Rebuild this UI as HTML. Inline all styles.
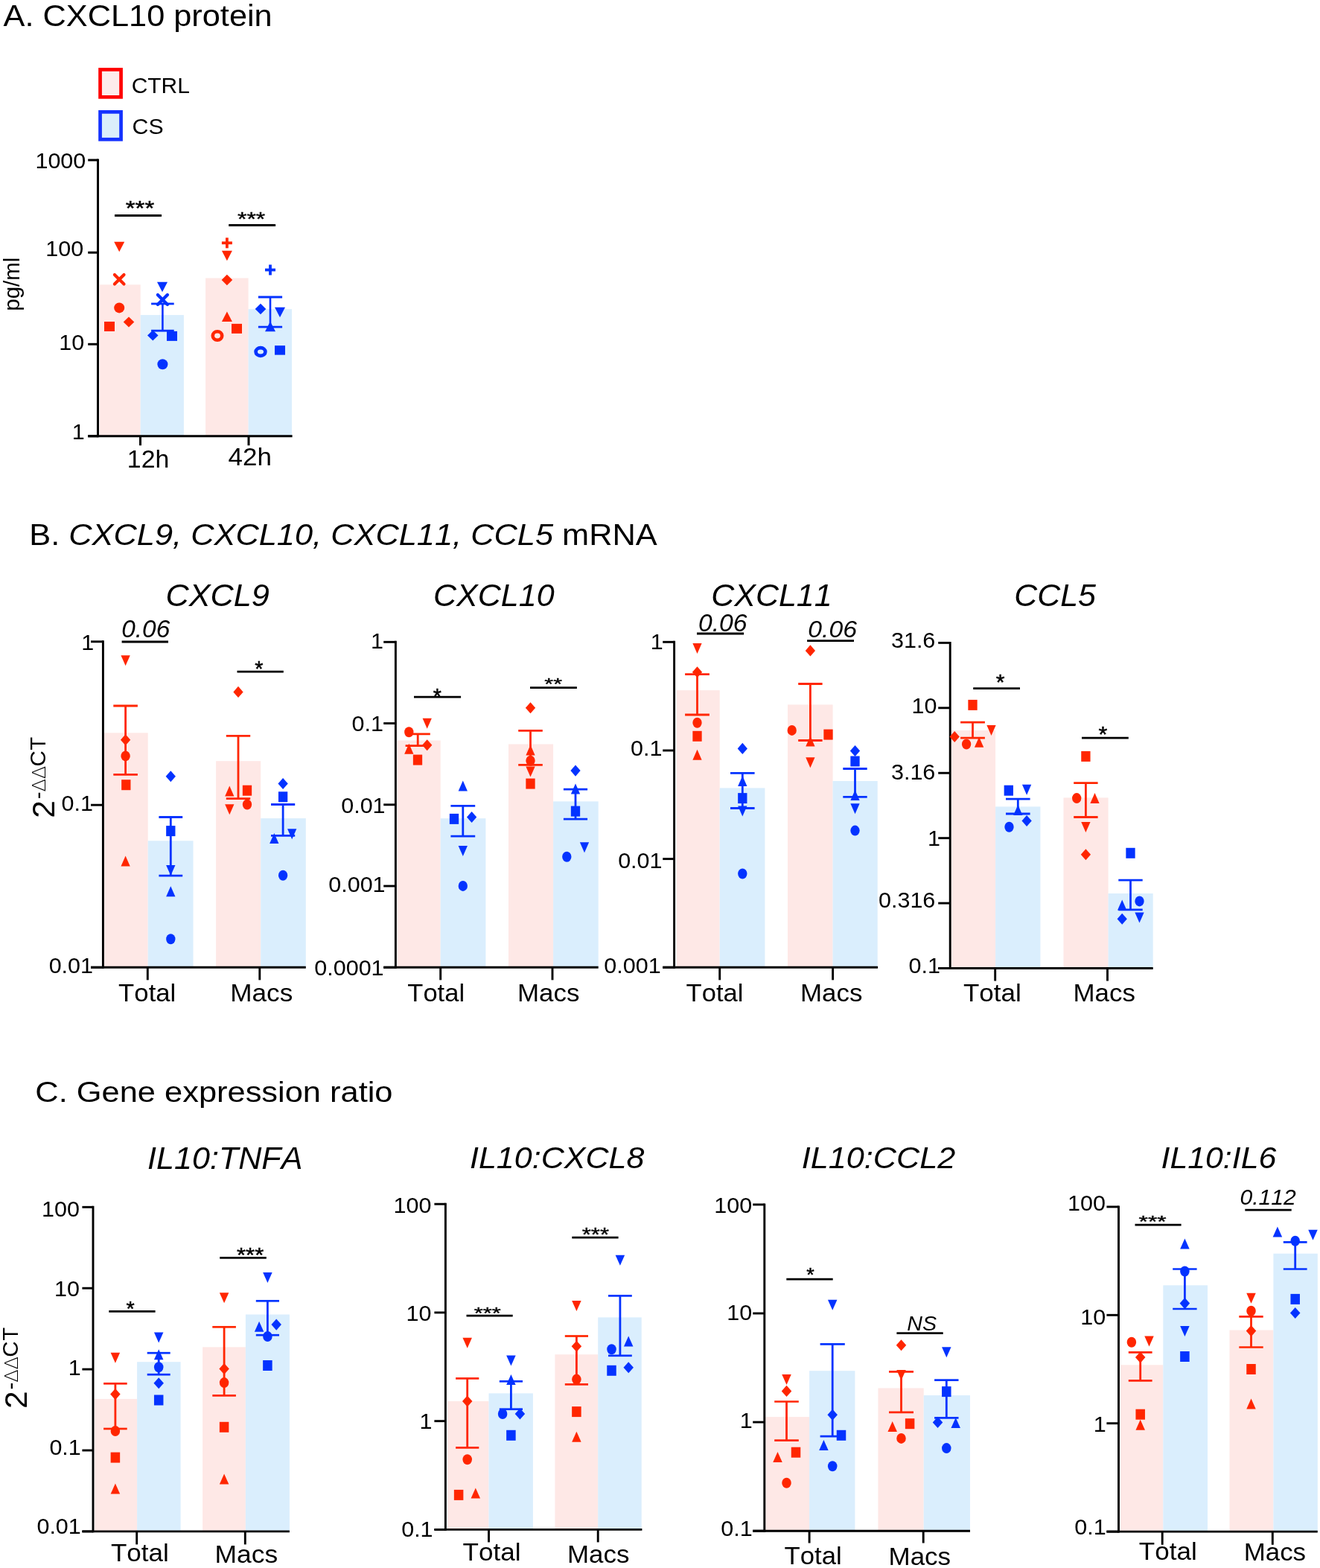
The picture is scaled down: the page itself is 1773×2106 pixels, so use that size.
<!DOCTYPE html><html><head><meta charset="utf-8"><style>html,body{margin:0;padding:0;background:#fff;}svg{display:block;}text{font-family:"Liberation Sans",Arial,sans-serif;font-kerning:none;fill:#000;}</style></head><body>
<svg width="1773" height="2106" viewBox="0 0 1773 2106">
<rect width="1773" height="2106" fill="#fff"/>
<text transform="translate(4.62,34.5) scale(1,0.9493)" style="font-size:43.32px" xml:space="preserve">A. CXCL10 protein</text>
<rect x="134.55" y="93.45" width="28" height="36.9" fill="#FDEBEB" stroke="#FF0000" stroke-width="4.7"/>
<rect x="134.55" y="150.35" width="28" height="36.9" fill="#DAEEFB" stroke="#1432FF" stroke-width="4.7"/>
<text transform="translate(176.68,124.9) scale(1,0.9898)" style="font-size:29.95px" xml:space="preserve">CTRL</text>
<text transform="translate(177.56,179.9) scale(1,0.9847)" style="font-size:30.25px" xml:space="preserve">CS</text>
<text transform="translate(26,381.7) rotate(-90)" text-anchor="middle" style="font-size:29.5px">pg/ml</text>
<rect x="133.8" y="382.3" width="54.9" height="203.5" fill="#FEE8E6"/>
<rect x="188.7" y="423.1" width="58.2" height="162.7" fill="#DAEEFD"/>
<rect x="276.1" y="373.5" width="57.5" height="212.3" fill="#FEE8E6"/>
<rect x="333.6" y="415.2" width="58.4" height="170.6" fill="#DAEEFD"/>
<line x1="131.5" y1="213.5" x2="131.5" y2="587.3" stroke="#000" stroke-width="3" stroke-linecap="butt"/>
<line x1="118.2" y1="585.8" x2="392.6" y2="585.8" stroke="#000" stroke-width="3" stroke-linecap="butt"/>
<line x1="118.2" y1="215" x2="131.5" y2="215" stroke="#000" stroke-width="3" stroke-linecap="butt"/>
<line x1="118.2" y1="339.2" x2="131.5" y2="339.2" stroke="#000" stroke-width="3" stroke-linecap="butt"/>
<line x1="118.2" y1="462.3" x2="131.5" y2="462.3" stroke="#000" stroke-width="3" stroke-linecap="butt"/>
<line x1="118.2" y1="585.8" x2="131.5" y2="585.8" stroke="#000" stroke-width="3" stroke-linecap="butt"/>
<line x1="188.5" y1="585.8" x2="188.5" y2="598.3" stroke="#000" stroke-width="3" stroke-linecap="butt"/>
<line x1="334" y1="585.8" x2="334" y2="598.3" stroke="#000" stroke-width="3" stroke-linecap="butt"/>
<text transform="translate(47.44,226) scale(1,0.960)" style="font-size:30.5px">1000</text>
<text transform="translate(61.3,344) scale(1,0.960)" style="font-size:30.5px">100</text>
<text transform="translate(79.27,469.7) scale(1,0.960)" style="font-size:30.5px">10</text>
<text transform="translate(96.64,590.4) scale(1,0.960)" style="font-size:30.5px">1</text>
<text transform="translate(170.82,628) scale(1,0.9826)" style="font-size:33.85px" xml:space="preserve">12h</text>
<text transform="translate(306.5,625.2) scale(1,0.9506)" style="font-size:34.99px" xml:space="preserve">42h</text>
<polygon points="153.2,324.75 167.2,324.75 160.2,338.25" fill="#FF2600"/>
<path d="M153.9 369L166.5 381.6M166.5 369L153.9 381.6" stroke="#FF2600" stroke-width="4.2" stroke-linecap="round" fill="none"/>
<ellipse cx="160.2" cy="413.4" rx="7" ry="7" fill="#FF2600"/>
<polygon points="165.71,432.4 173,425.38 180.29,432.4 173,439.42" fill="#FF2600"/>
<rect x="140" y="432" width="14" height="13" fill="#FF2600"/>
<line x1="218.4" y1="408" x2="218.4" y2="444.2" stroke="#0433FF" stroke-width="2.6" stroke-linecap="butt"/>
<line x1="203.1" y1="408" x2="233.7" y2="408" stroke="#0433FF" stroke-width="2.8" stroke-linecap="butt"/>
<line x1="203.1" y1="444.2" x2="233.7" y2="444.2" stroke="#0433FF" stroke-width="2.8" stroke-linecap="butt"/>
<polygon points="211,378.75 225,378.75 218,392.25" fill="#0433FF"/>
<path d="M211.89 395.99L224.91 409.01M224.91 395.99L211.89 409.01" stroke="#0433FF" stroke-width="4.34" stroke-linecap="round" fill="none"/>
<polygon points="198.01,450.6 205.3,443.58 212.59,450.6 205.3,457.62" fill="#0433FF"/>
<rect x="224" y="444.9" width="14" height="13" fill="#0433FF"/>
<ellipse cx="218.4" cy="489.3" rx="7" ry="7" fill="#0433FF"/>
<rect x="297.9" y="324.41" width="14" height="3.78" fill="#FF2600"/>
<rect x="303.01" y="319.3" width="3.78" height="14" fill="#FF2600"/>
<polygon points="297.9,336.65 311.9,336.65 304.9,350.15" fill="#FF2600"/>
<polygon points="297.61,376 304.9,368.71 312.19,376 304.9,383.29" fill="#FF2600"/>
<polygon points="297.9,432.05 311.9,432.05 304.9,418.55" fill="#FF2600"/>
<ellipse cx="292" cy="451" rx="6.21" ry="5.71" fill="none" stroke="#FF2600" stroke-width="4.59"/>
<rect x="311" y="434.9" width="14" height="13" fill="#FF2600"/>
<line x1="363" y1="399" x2="363" y2="439.1" stroke="#0433FF" stroke-width="2.6" stroke-linecap="butt"/>
<line x1="346.9" y1="399" x2="379.1" y2="399" stroke="#0433FF" stroke-width="2.8" stroke-linecap="butt"/>
<line x1="346.9" y1="439.1" x2="379.1" y2="439.1" stroke="#0433FF" stroke-width="2.8" stroke-linecap="butt"/>
<rect x="356" y="360.61" width="14" height="3.78" fill="#0433FF"/>
<rect x="361.11" y="355.5" width="3.78" height="14" fill="#0433FF"/>
<polygon points="342.71,415 350,407.71 357.29,415 350,422.29" fill="#0433FF"/>
<polygon points="369,412.75 383,412.75 376,426.25" fill="#0433FF"/>
<polygon points="356,445.25 370,445.25 363,431.75" fill="#0433FF"/>
<ellipse cx="350" cy="472.5" rx="6.39" ry="5.39" fill="none" stroke="#0433FF" stroke-width="4.73"/>
<rect x="369" y="464.15" width="14" height="12.5" fill="#0433FF"/>
<line x1="154" y1="289.5" x2="217" y2="289.5" stroke="#000" stroke-width="3" stroke-linecap="butt"/>
<text transform="translate(168.77,288.81) scale(1,0.8390)" style="font-size:32.93px;stroke:#000;stroke-width:0.5px">***</text>
<line x1="307.2" y1="302.5" x2="370.1" y2="302.5" stroke="#000" stroke-width="3" stroke-linecap="butt"/>
<text transform="translate(318.99,303.42) scale(1,0.8311)" style="font-size:31.87px;stroke:#000;stroke-width:0.5px">***</text>
<text transform="translate(39.24,732.1) scale(1,0.9508)" style="font-size:43.38px" xml:space="preserve"><tspan>B. </tspan><tspan style="font-style:italic">CXCL9, CXCL10, CXCL11, CCL5</tspan><tspan> mRNA</tspan></text>
<text transform="translate(72.9,0) rotate(-90)" x="-1098.84" y="0" style="font-size:42.5px">2</text>
<text transform="translate(61,0) rotate(-90)" x="-1073.31" y="0" style="font-size:29.5px">-</text>
<text transform="translate(61,0) rotate(-90)" x="-1063.48" y="0" style="font-size:25.6px;font-family:'DejaVu Sans';font-weight:200">Δ</text>
<text transform="translate(61,0) rotate(-90)" x="-1046.28" y="0" style="font-size:25.6px;font-family:'DejaVu Sans';font-weight:200">Δ</text>
<text transform="translate(61,0) rotate(-90)" x="-1029.6" y="0" style="font-size:29.5px">C</text>
<text transform="translate(61,0) rotate(-90)" x="-1007.66" y="0" style="font-size:29.5px">T</text>
<text transform="translate(222.41,814.2) scale(1,0.9772)" style="font-size:43.23px;font-style:italic" xml:space="preserve">CXCL9</text>
<text transform="translate(582.03,814.2) scale(1,0.9819)" style="font-size:43.03px;font-style:italic" xml:space="preserve">CXCL10</text>
<text transform="translate(955.23,814.2) scale(1,0.9833)" style="font-size:42.97px;font-style:italic" xml:space="preserve">CXCL11</text>
<text transform="translate(1362.23,814.2) scale(1,0.9850)" style="font-size:42.89px;font-style:italic" xml:space="preserve">CCL5</text>
<rect x="139.8" y="984.3" width="58.9" height="315" fill="#FEE8E6"/>
<rect x="198.7" y="1129.3" width="60.8" height="170" fill="#DAEEFD"/>
<rect x="290.1" y="1022.2" width="60.1" height="277.1" fill="#FEE8E6"/>
<rect x="350.2" y="1099.1" width="60.6" height="200.2" fill="#DAEEFD"/>
<line x1="138.4" y1="860.35" x2="138.4" y2="1300.75" stroke="#000" stroke-width="2.9" stroke-linecap="butt"/>
<line x1="122" y1="1299.3" x2="410.8" y2="1299.3" stroke="#000" stroke-width="2.9" stroke-linecap="butt"/>
<line x1="122" y1="861.8" x2="138.4" y2="861.8" stroke="#000" stroke-width="2.9" stroke-linecap="butt"/>
<line x1="122" y1="1081.2" x2="138.4" y2="1081.2" stroke="#000" stroke-width="2.9" stroke-linecap="butt"/>
<line x1="122" y1="1299.3" x2="138.4" y2="1299.3" stroke="#000" stroke-width="2.9" stroke-linecap="butt"/>
<line x1="198.3" y1="1299.3" x2="198.3" y2="1316.3" stroke="#000" stroke-width="2.9" stroke-linecap="butt"/>
<line x1="348.8" y1="1299.3" x2="348.8" y2="1316.3" stroke="#000" stroke-width="2.9" stroke-linecap="butt"/>
<text transform="translate(109.14,873.2) scale(1,0.960)" style="font-size:30.5px">1</text>
<text transform="translate(82.5,1088.8) scale(1,0.960)" style="font-size:30.5px">0.1</text>
<text transform="translate(65.64,1307.3) scale(1,0.960)" style="font-size:30.5px">0.01</text>
<text transform="translate(159.12,1344.9) scale(1,0.9458)" style="font-size:34.73px" xml:space="preserve">Total</text>
<text transform="translate(309.21,1344.7) scale(1,0.9331)" style="font-size:35.18px" xml:space="preserve">Macs</text>
<line x1="168.6" y1="948" x2="168.6" y2="1040.3" stroke="#FF2600" stroke-width="2.8" stroke-linecap="butt"/>
<line x1="152.3" y1="948" x2="184.9" y2="948" stroke="#FF2600" stroke-width="2.8" stroke-linecap="butt"/>
<line x1="152.3" y1="1040.3" x2="184.9" y2="1040.3" stroke="#FF2600" stroke-width="2.8" stroke-linecap="butt"/>
<polygon points="162.45,880.3 174.75,880.3 168.6,894.3" fill="#FF2600"/>
<polygon points="161.96,993.8 168.6,986.24 175.24,993.8 168.6,1001.36" fill="#FF2600"/>
<ellipse cx="168.6" cy="1015.4" rx="6.15" ry="7" fill="#FF2600"/>
<rect x="163.15" y="1047.2" width="12.3" height="14" fill="#FF2600"/>
<polygon points="162.45,1163.5 174.75,1163.5 168.6,1149.5" fill="#FF2600"/>
<line x1="229.3" y1="1097.5" x2="229.3" y2="1176.2" stroke="#0433FF" stroke-width="2.8" stroke-linecap="butt"/>
<line x1="213.4" y1="1097.5" x2="245.2" y2="1097.5" stroke="#0433FF" stroke-width="2.8" stroke-linecap="butt"/>
<line x1="213.4" y1="1176.2" x2="245.2" y2="1176.2" stroke="#0433FF" stroke-width="2.8" stroke-linecap="butt"/>
<polygon points="222.66,1042.7 229.3,1035.14 235.94,1042.7 229.3,1050.26" fill="#0433FF"/>
<rect x="223.15" y="1109.1" width="12.3" height="14" fill="#0433FF"/>
<polygon points="223.15,1162 235.45,1162 229.3,1176" fill="#0433FF"/>
<polygon points="223.15,1204.3 235.45,1204.3 229.3,1190.3" fill="#0433FF"/>
<ellipse cx="229.3" cy="1261.2" rx="6.15" ry="7" fill="#0433FF"/>
<line x1="320" y1="988.4" x2="320" y2="1072.6" stroke="#FF2600" stroke-width="2.8" stroke-linecap="butt"/>
<line x1="303.8" y1="988.4" x2="336.2" y2="988.4" stroke="#FF2600" stroke-width="2.8" stroke-linecap="butt"/>
<line x1="303.8" y1="1072.6" x2="336.2" y2="1072.6" stroke="#FF2600" stroke-width="2.8" stroke-linecap="butt"/>
<polygon points="313.36,929.4 320,921.84 326.64,929.4 320,936.96" fill="#FF2600"/>
<polygon points="302.15,1069.4 314.45,1069.4 308.3,1055.4" fill="#FF2600"/>
<rect x="325.85" y="1054.7" width="12.3" height="14" fill="#FF2600"/>
<polygon points="302.15,1080.3 314.45,1080.3 308.3,1094.3" fill="#FF2600"/>
<ellipse cx="332" cy="1080.5" rx="6.15" ry="7" fill="#FF2600"/>
<line x1="380.1" y1="1080.5" x2="380.1" y2="1122.4" stroke="#0433FF" stroke-width="2.8" stroke-linecap="butt"/>
<line x1="364" y1="1080.5" x2="396.2" y2="1080.5" stroke="#0433FF" stroke-width="2.8" stroke-linecap="butt"/>
<line x1="364" y1="1122.4" x2="396.2" y2="1122.4" stroke="#0433FF" stroke-width="2.8" stroke-linecap="butt"/>
<polygon points="373.46,1052.5 380.1,1044.94 386.74,1052.5 380.1,1060.06" fill="#0433FF"/>
<rect x="373.95" y="1063.3" width="12.3" height="14" fill="#0433FF"/>
<polygon points="362.15,1132.9 374.45,1132.9 368.3,1118.9" fill="#0433FF"/>
<polygon points="386.05,1113.2 398.35,1113.2 392.2,1127.2" fill="#0433FF"/>
<ellipse cx="380.1" cy="1175.7" rx="6.15" ry="7" fill="#0433FF"/>
<line x1="163.6" y1="862" x2="226" y2="862" stroke="#000" stroke-width="2.8" stroke-linecap="butt"/>
<text transform="translate(163.25,856.2) scale(1,0.9742)" style="font-size:33.37px;font-style:italic" xml:space="preserve">0.06</text>
<line x1="318.5" y1="902.2" x2="380.8" y2="902.2" stroke="#000" stroke-width="2.8" stroke-linecap="butt"/>
<text transform="translate(342.24,907.98) scale(1,1.0181)" style="font-size:28.82px;stroke:#000;stroke-width:0.5px">*</text>
<rect x="533.4" y="994.5" width="58.3" height="304.8" fill="#FEE8E6"/>
<rect x="591.7" y="1099.2" width="60.7" height="200.1" fill="#DAEEFD"/>
<rect x="683" y="999.5" width="60.1" height="299.8" fill="#FEE8E6"/>
<rect x="743.1" y="1076.4" width="60.6" height="222.9" fill="#DAEEFD"/>
<line x1="531.4" y1="860.85" x2="531.4" y2="1300.75" stroke="#000" stroke-width="2.9" stroke-linecap="butt"/>
<line x1="515.2" y1="1299.3" x2="803.7" y2="1299.3" stroke="#000" stroke-width="2.9" stroke-linecap="butt"/>
<line x1="515.2" y1="862.3" x2="531.4" y2="862.3" stroke="#000" stroke-width="2.9" stroke-linecap="butt"/>
<line x1="515.2" y1="971.55" x2="531.4" y2="971.55" stroke="#000" stroke-width="2.9" stroke-linecap="butt"/>
<line x1="515.2" y1="1080.8" x2="531.4" y2="1080.8" stroke="#000" stroke-width="2.9" stroke-linecap="butt"/>
<line x1="515.2" y1="1190.05" x2="531.4" y2="1190.05" stroke="#000" stroke-width="2.9" stroke-linecap="butt"/>
<line x1="515.2" y1="1299.3" x2="531.4" y2="1299.3" stroke="#000" stroke-width="2.9" stroke-linecap="butt"/>
<line x1="591.7" y1="1299.3" x2="591.7" y2="1316.3" stroke="#000" stroke-width="2.9" stroke-linecap="butt"/>
<line x1="742" y1="1299.3" x2="742" y2="1316.3" stroke="#000" stroke-width="2.9" stroke-linecap="butt"/>
<text transform="translate(497.94,870.8) scale(1,0.960)" style="font-size:30.5px">1</text>
<text transform="translate(472.5,981.8) scale(1,0.960)" style="font-size:30.5px">0.1</text>
<text transform="translate(458.24,1091.8) scale(1,0.960)" style="font-size:30.5px">0.01</text>
<text transform="translate(441.27,1198.4) scale(1,0.960)" style="font-size:30.5px">0.001</text>
<text transform="translate(422.31,1309.5) scale(1,0.960)" style="font-size:30.5px">0.0001</text>
<text transform="translate(547.32,1344.7) scale(1,0.9509)" style="font-size:34.54px" xml:space="preserve">Total</text>
<text transform="translate(694.94,1344.7) scale(1,0.9401)" style="font-size:34.92px" xml:space="preserve">Macs</text>
<line x1="561.2" y1="985.9" x2="561.2" y2="1001.7" stroke="#FF2600" stroke-width="2.8" stroke-linecap="butt"/>
<line x1="544.6" y1="985.9" x2="577.8" y2="985.9" stroke="#FF2600" stroke-width="2.8" stroke-linecap="butt"/>
<line x1="544.6" y1="1001.7" x2="577.8" y2="1001.7" stroke="#FF2600" stroke-width="2.8" stroke-linecap="butt"/>
<ellipse cx="549.3" cy="983.2" rx="6.15" ry="7" fill="#FF2600"/>
<polygon points="567.55,964.8 579.85,964.8 573.7,978.8" fill="#FF2600"/>
<polygon points="543.15,1012.8 555.45,1012.8 549.3,998.8" fill="#FF2600"/>
<polygon points="567.06,1000.8 573.7,993.24 580.34,1000.8 573.7,1008.36" fill="#FF2600"/>
<rect x="554.85" y="1013.6" width="12.3" height="14" fill="#FF2600"/>
<line x1="621.8" y1="1082.3" x2="621.8" y2="1123.1" stroke="#0433FF" stroke-width="2.8" stroke-linecap="butt"/>
<line x1="605.4" y1="1082.3" x2="638.2" y2="1082.3" stroke="#0433FF" stroke-width="2.8" stroke-linecap="butt"/>
<line x1="605.4" y1="1123.1" x2="638.2" y2="1123.1" stroke="#0433FF" stroke-width="2.8" stroke-linecap="butt"/>
<polygon points="615.65,1062.6 627.95,1062.6 621.8,1048.6" fill="#0433FF"/>
<rect x="603.85" y="1092.9" width="12.3" height="14" fill="#0433FF"/>
<polygon points="626.96,1097.5 633.6,1089.94 640.24,1097.5 633.6,1105.06" fill="#0433FF"/>
<polygon points="615.65,1135.9 627.95,1135.9 621.8,1149.9" fill="#0433FF"/>
<ellipse cx="621.8" cy="1189.9" rx="6.15" ry="7" fill="#0433FF"/>
<line x1="712.5" y1="981.3" x2="712.5" y2="1027.4" stroke="#FF2600" stroke-width="2.8" stroke-linecap="butt"/>
<line x1="696.2" y1="981.3" x2="728.8" y2="981.3" stroke="#FF2600" stroke-width="2.8" stroke-linecap="butt"/>
<line x1="696.2" y1="1027.4" x2="728.8" y2="1027.4" stroke="#FF2600" stroke-width="2.8" stroke-linecap="butt"/>
<polygon points="705.86,950.7 712.5,943.14 719.14,950.7 712.5,958.26" fill="#FF2600"/>
<polygon points="706.35,1014.6 718.65,1014.6 712.5,1000.6" fill="#FF2600"/>
<ellipse cx="712.5" cy="1021.7" rx="6.15" ry="7" fill="#FF2600"/>
<polygon points="706.35,1029.4 718.65,1029.4 712.5,1043.4" fill="#FF2600"/>
<rect x="706.35" y="1045.6" width="12.3" height="14" fill="#FF2600"/>
<line x1="773" y1="1060.1" x2="773" y2="1100.2" stroke="#0433FF" stroke-width="2.8" stroke-linecap="butt"/>
<line x1="756.9" y1="1060.1" x2="789.1" y2="1060.1" stroke="#0433FF" stroke-width="2.8" stroke-linecap="butt"/>
<line x1="756.9" y1="1100.2" x2="789.1" y2="1100.2" stroke="#0433FF" stroke-width="2.8" stroke-linecap="butt"/>
<polygon points="766.36,1035.1 773,1027.54 779.64,1035.1 773,1042.66" fill="#0433FF"/>
<polygon points="766.85,1066.4 779.15,1066.4 773,1052.4" fill="#0433FF"/>
<rect x="766.85" y="1082.6" width="12.3" height="14" fill="#0433FF"/>
<polygon points="778.85,1131.3 791.15,1131.3 785,1145.3" fill="#0433FF"/>
<ellipse cx="761.3" cy="1150.8" rx="6.15" ry="7" fill="#0433FF"/>
<line x1="556" y1="936.2" x2="619.1" y2="936.2" stroke="#000" stroke-width="2.8" stroke-linecap="butt"/>
<text transform="translate(581.64,944.79) scale(1,1.0181)" style="font-size:28.54px;stroke:#000;stroke-width:0.5px">*</text>
<line x1="712" y1="923.7" x2="774.9" y2="923.7" stroke="#000" stroke-width="2.8" stroke-linecap="butt"/>
<text transform="translate(731.31,926.18) scale(1,0.7495)" style="font-size:30.41px;stroke:#000;stroke-width:0.5px">**</text>
<rect x="908.4" y="927.1" width="58.3" height="372.2" fill="#FEE8E6"/>
<rect x="966.7" y="1058.4" width="60.7" height="240.9" fill="#DAEEFD"/>
<rect x="1058" y="946.4" width="60.6" height="352.9" fill="#FEE8E6"/>
<rect x="1118.6" y="1049" width="60.1" height="250.3" fill="#DAEEFD"/>
<line x1="905.6" y1="860.85" x2="905.6" y2="1300.75" stroke="#000" stroke-width="2.9" stroke-linecap="butt"/>
<line x1="890.2" y1="1299.3" x2="1179.1" y2="1299.3" stroke="#000" stroke-width="2.9" stroke-linecap="butt"/>
<line x1="890.2" y1="862.3" x2="905.6" y2="862.3" stroke="#000" stroke-width="2.9" stroke-linecap="butt"/>
<line x1="890.2" y1="1007.97" x2="905.6" y2="1007.97" stroke="#000" stroke-width="2.9" stroke-linecap="butt"/>
<line x1="890.2" y1="1153.63" x2="905.6" y2="1153.63" stroke="#000" stroke-width="2.9" stroke-linecap="butt"/>
<line x1="890.2" y1="1299.3" x2="905.6" y2="1299.3" stroke="#000" stroke-width="2.9" stroke-linecap="butt"/>
<line x1="966.7" y1="1299.3" x2="966.7" y2="1316.3" stroke="#000" stroke-width="2.9" stroke-linecap="butt"/>
<line x1="1118.6" y1="1299.3" x2="1118.6" y2="1316.3" stroke="#000" stroke-width="2.9" stroke-linecap="butt"/>
<text transform="translate(873.64,872.1) scale(1,0.960)" style="font-size:30.5px">1</text>
<text transform="translate(847.1,1015.2) scale(1,0.960)" style="font-size:30.5px">0.1</text>
<text transform="translate(830.14,1166) scale(1,0.960)" style="font-size:30.5px">0.01</text>
<text transform="translate(811.37,1307.1) scale(1,0.960)" style="font-size:30.5px">0.001</text>
<text transform="translate(921.62,1344.7) scale(1,0.9509)" style="font-size:34.54px" xml:space="preserve">Total</text>
<text transform="translate(1074.94,1344.7) scale(1,0.9401)" style="font-size:34.92px" xml:space="preserve">Macs</text>
<line x1="936.5" y1="905.6" x2="936.5" y2="960" stroke="#FF2600" stroke-width="2.8" stroke-linecap="butt"/>
<line x1="920.1" y1="905.6" x2="952.9" y2="905.6" stroke="#FF2600" stroke-width="2.8" stroke-linecap="butt"/>
<line x1="920.1" y1="960" x2="952.9" y2="960" stroke="#FF2600" stroke-width="2.8" stroke-linecap="butt"/>
<polygon points="930.35,863.9 942.65,863.9 936.5,877.9" fill="#FF2600"/>
<polygon points="929.86,902.7 936.5,895.14 943.14,902.7 936.5,910.26" fill="#FF2600"/>
<ellipse cx="936.5" cy="970.7" rx="6.15" ry="7" fill="#FF2600"/>
<rect x="930.35" y="981.8" width="12.3" height="14" fill="#FF2600"/>
<polygon points="930.35,1020.7 942.65,1020.7 936.5,1006.7" fill="#FF2600"/>
<line x1="997.3" y1="1038.4" x2="997.3" y2="1085.5" stroke="#0433FF" stroke-width="2.8" stroke-linecap="butt"/>
<line x1="981" y1="1038.4" x2="1013.6" y2="1038.4" stroke="#0433FF" stroke-width="2.8" stroke-linecap="butt"/>
<line x1="981" y1="1085.5" x2="1013.6" y2="1085.5" stroke="#0433FF" stroke-width="2.8" stroke-linecap="butt"/>
<polygon points="990.66,1005.4 997.3,997.84 1003.94,1005.4 997.3,1012.96" fill="#0433FF"/>
<polygon points="991.15,1056 1003.45,1056 997.3,1042" fill="#0433FF"/>
<rect x="991.15" y="1065.1" width="12.3" height="14" fill="#0433FF"/>
<polygon points="991.15,1082.6 1003.45,1082.6 997.3,1096.6" fill="#0433FF"/>
<ellipse cx="997.3" cy="1173.5" rx="6.15" ry="7" fill="#0433FF"/>
<line x1="1088.4" y1="918.5" x2="1088.4" y2="994.5" stroke="#FF2600" stroke-width="2.8" stroke-linecap="butt"/>
<line x1="1072.2" y1="918.5" x2="1104.6" y2="918.5" stroke="#FF2600" stroke-width="2.8" stroke-linecap="butt"/>
<line x1="1072.2" y1="994.5" x2="1104.6" y2="994.5" stroke="#FF2600" stroke-width="2.8" stroke-linecap="butt"/>
<polygon points="1081.76,873.9 1088.4,866.34 1095.04,873.9 1088.4,881.46" fill="#FF2600"/>
<ellipse cx="1063.7" cy="980.9" rx="6.15" ry="7" fill="#FF2600"/>
<rect x="1106.35" y="979.6" width="12.3" height="14" fill="#FF2600"/>
<polygon points="1082.25,1002.6 1094.55,1002.6 1088.4,988.6" fill="#FF2600"/>
<polygon points="1082.25,1017.3 1094.55,1017.3 1088.4,1031.3" fill="#FF2600"/>
<line x1="1148.5" y1="1032.5" x2="1148.5" y2="1070.3" stroke="#0433FF" stroke-width="2.8" stroke-linecap="butt"/>
<line x1="1132.3" y1="1032.5" x2="1164.7" y2="1032.5" stroke="#0433FF" stroke-width="2.8" stroke-linecap="butt"/>
<line x1="1132.3" y1="1070.3" x2="1164.7" y2="1070.3" stroke="#0433FF" stroke-width="2.8" stroke-linecap="butt"/>
<polygon points="1141.86,1008.5 1148.5,1000.94 1155.14,1008.5 1148.5,1016.06" fill="#0433FF"/>
<rect x="1142.35" y="1015.5" width="12.3" height="14" fill="#0433FF"/>
<polygon points="1142.35,1075 1154.65,1075 1148.5,1061" fill="#0433FF"/>
<polygon points="1142.35,1079.2 1154.65,1079.2 1148.5,1093.2" fill="#0433FF"/>
<ellipse cx="1148.5" cy="1115.6" rx="6.15" ry="7" fill="#0433FF"/>
<line x1="936" y1="851" x2="999.1" y2="851" stroke="#000" stroke-width="2.8" stroke-linecap="butt"/>
<text transform="translate(938.04,848.2) scale(1,0.9608)" style="font-size:33.69px;font-style:italic" xml:space="preserve">0.06</text>
<line x1="1084.1" y1="860.7" x2="1147" y2="860.7" stroke="#000" stroke-width="2.8" stroke-linecap="butt"/>
<text transform="translate(1085.33,855.7) scale(1,0.9424)" style="font-size:33.74px;font-style:italic" xml:space="preserve">0.06</text>
<rect x="1277.7" y="981" width="59.4" height="319.5" fill="#FEE8E6"/>
<rect x="1337.1" y="1083.4" width="60.3" height="217.1" fill="#DAEEFD"/>
<rect x="1428.5" y="1071.4" width="60.1" height="229.1" fill="#FEE8E6"/>
<rect x="1488.6" y="1200" width="60.1" height="100.5" fill="#DAEEFD"/>
<line x1="1276.2" y1="861.95" x2="1276.2" y2="1301.95" stroke="#000" stroke-width="2.9" stroke-linecap="butt"/>
<line x1="1260.2" y1="1300.5" x2="1548.7" y2="1300.5" stroke="#000" stroke-width="2.9" stroke-linecap="butt"/>
<line x1="1260.2" y1="863.4" x2="1276.2" y2="863.4" stroke="#000" stroke-width="2.9" stroke-linecap="butt"/>
<line x1="1260.2" y1="950.82" x2="1276.2" y2="950.82" stroke="#000" stroke-width="2.9" stroke-linecap="butt"/>
<line x1="1260.2" y1="1038.24" x2="1276.2" y2="1038.24" stroke="#000" stroke-width="2.9" stroke-linecap="butt"/>
<line x1="1260.2" y1="1125.66" x2="1276.2" y2="1125.66" stroke="#000" stroke-width="2.9" stroke-linecap="butt"/>
<line x1="1260.2" y1="1213.08" x2="1276.2" y2="1213.08" stroke="#000" stroke-width="2.9" stroke-linecap="butt"/>
<line x1="1260.2" y1="1300.5" x2="1276.2" y2="1300.5" stroke="#000" stroke-width="2.9" stroke-linecap="butt"/>
<line x1="1336.7" y1="1300.5" x2="1336.7" y2="1317.5" stroke="#000" stroke-width="2.9" stroke-linecap="butt"/>
<line x1="1487.5" y1="1300.5" x2="1487.5" y2="1317.5" stroke="#000" stroke-width="2.9" stroke-linecap="butt"/>
<text transform="translate(1196.98,869.8) scale(1,0.960)" style="font-size:30.5px">31.6</text>
<text transform="translate(1224.57,958.2) scale(1,0.960)" style="font-size:30.5px">10</text>
<text transform="translate(1196.98,1046.6) scale(1,0.960)" style="font-size:30.5px">3.16</text>
<text transform="translate(1245.94,1135.6) scale(1,0.960)" style="font-size:30.5px">1</text>
<text transform="translate(1180.02,1218.8) scale(1,0.960)" style="font-size:30.5px">0.316</text>
<text transform="translate(1220.5,1306.6) scale(1,0.960)" style="font-size:30.5px">0.1</text>
<text transform="translate(1293.91,1344.7) scale(1,0.9370)" style="font-size:35.06px" xml:space="preserve">Total</text>
<text transform="translate(1441.54,1344.7) scale(1,0.9401)" style="font-size:34.92px" xml:space="preserve">Macs</text>
<line x1="1306.5" y1="970.2" x2="1306.5" y2="991.1" stroke="#FF2600" stroke-width="2.8" stroke-linecap="butt"/>
<line x1="1290.1" y1="970.2" x2="1322.9" y2="970.2" stroke="#FF2600" stroke-width="2.8" stroke-linecap="butt"/>
<line x1="1290.1" y1="991.1" x2="1322.9" y2="991.1" stroke="#FF2600" stroke-width="2.8" stroke-linecap="butt"/>
<rect x="1300.35" y="939.9" width="12.3" height="14" fill="#FF2600"/>
<polygon points="1325.35,973.9 1337.65,973.9 1331.5,987.9" fill="#FF2600"/>
<polygon points="1275.56,989.5 1282.2,981.94 1288.84,989.5 1282.2,997.06" fill="#FF2600"/>
<ellipse cx="1298.1" cy="999.5" rx="6.15" ry="7" fill="#FF2600"/>
<polygon points="1308.95,1003.8 1321.25,1003.8 1315.1,989.8" fill="#FF2600"/>
<line x1="1367.3" y1="1073.2" x2="1367.3" y2="1093" stroke="#0433FF" stroke-width="2.8" stroke-linecap="butt"/>
<line x1="1351" y1="1073.2" x2="1383.6" y2="1073.2" stroke="#0433FF" stroke-width="2.8" stroke-linecap="butt"/>
<line x1="1351" y1="1093" x2="1383.6" y2="1093" stroke="#0433FF" stroke-width="2.8" stroke-linecap="butt"/>
<rect x="1348.65" y="1054.7" width="12.3" height="14" fill="#0433FF"/>
<polygon points="1372.95,1053.8 1385.25,1053.8 1379.1,1067.8" fill="#0433FF"/>
<polygon points="1361.15,1095 1373.45,1095 1367.3,1081" fill="#0433FF"/>
<polygon points="1372.46,1102.5 1379.1,1094.94 1385.74,1102.5 1379.1,1110.06" fill="#0433FF"/>
<ellipse cx="1355.5" cy="1110.7" rx="6.15" ry="7" fill="#0433FF"/>
<line x1="1458.4" y1="1051.7" x2="1458.4" y2="1097.5" stroke="#FF2600" stroke-width="2.8" stroke-linecap="butt"/>
<line x1="1442.2" y1="1051.7" x2="1474.6" y2="1051.7" stroke="#FF2600" stroke-width="2.8" stroke-linecap="butt"/>
<line x1="1442.2" y1="1097.5" x2="1474.6" y2="1097.5" stroke="#FF2600" stroke-width="2.8" stroke-linecap="butt"/>
<rect x="1452.25" y="1008.9" width="12.3" height="14" fill="#FF2600"/>
<ellipse cx="1446.2" cy="1072.1" rx="6.15" ry="7" fill="#FF2600"/>
<polygon points="1464.35,1079.1 1476.65,1079.1 1470.5,1065.1" fill="#FF2600"/>
<polygon points="1452.25,1104.1 1464.55,1104.1 1458.4,1118.1" fill="#FF2600"/>
<polygon points="1451.76,1147.8 1458.4,1140.24 1465.04,1147.8 1458.4,1155.36" fill="#FF2600"/>
<line x1="1518.5" y1="1182.1" x2="1518.5" y2="1221.8" stroke="#0433FF" stroke-width="2.8" stroke-linecap="butt"/>
<line x1="1502.3" y1="1182.1" x2="1534.7" y2="1182.1" stroke="#0433FF" stroke-width="2.8" stroke-linecap="butt"/>
<line x1="1502.3" y1="1221.8" x2="1534.7" y2="1221.8" stroke="#0433FF" stroke-width="2.8" stroke-linecap="butt"/>
<rect x="1512.35" y="1138.8" width="12.3" height="14" fill="#0433FF"/>
<ellipse cx="1530.5" cy="1210.4" rx="6.15" ry="7" fill="#0433FF"/>
<polygon points="1501.05,1222.4 1513.35,1222.4 1507.2,1208.4" fill="#0433FF"/>
<polygon points="1500.56,1234.2 1507.2,1226.64 1513.84,1234.2 1507.2,1241.76" fill="#0433FF"/>
<polygon points="1524.35,1225.4 1536.65,1225.4 1530.5,1239.4" fill="#0433FF"/>
<line x1="1307.2" y1="924.6" x2="1370" y2="924.6" stroke="#000" stroke-width="2.8" stroke-linecap="butt"/>
<text transform="translate(1337.81,925.99) scale(1,0.9615)" style="font-size:30.22px;stroke:#000;stroke-width:0.5px">*</text>
<line x1="1453" y1="991.1" x2="1515.8" y2="991.1" stroke="#000" stroke-width="2.8" stroke-linecap="butt"/>
<text transform="translate(1475.61,996.29) scale(1,0.9527)" style="font-size:30.5px;stroke:#000;stroke-width:0.5px">*</text>
<text transform="translate(47.29,1479.6) scale(1,0.9089)" style="font-size:43.43px" xml:space="preserve">C. Gene expression ratio</text>
<text transform="translate(36.1,0) rotate(-90)" x="-1892.04" y="0" style="font-size:42.5px">2</text>
<text transform="translate(24,0) rotate(-90)" x="-1866.51" y="0" style="font-size:29.5px">-</text>
<text transform="translate(24,0) rotate(-90)" x="-1856.68" y="0" style="font-size:25.6px;font-family:'DejaVu Sans';font-weight:200">Δ</text>
<text transform="translate(24,0) rotate(-90)" x="-1839.48" y="0" style="font-size:25.6px;font-family:'DejaVu Sans';font-weight:200">Δ</text>
<text transform="translate(24,0) rotate(-90)" x="-1822.8" y="0" style="font-size:29.5px">C</text>
<text transform="translate(24,0) rotate(-90)" x="-1800.86" y="0" style="font-size:29.5px">T</text>
<text transform="translate(198.1,1569.7) scale(1,0.9972)" style="font-size:43.09px;font-style:italic" xml:space="preserve">IL10:TNFA</text>
<text transform="translate(631,1569.2) scale(1,0.9455)" style="font-size:43.02px;font-style:italic" xml:space="preserve">IL10:CXCL8</text>
<text transform="translate(1076.79,1569.2) scale(1,0.9419)" style="font-size:43.18px;font-style:italic" xml:space="preserve">IL10:CCL2</text>
<text transform="translate(1559.51,1569.2) scale(1,0.9497)" style="font-size:42.83px;font-style:italic" xml:space="preserve">IL10:IL6</text>
<rect x="127" y="1878.9" width="57.1" height="178" fill="#FEE8E6"/>
<rect x="184.1" y="1829.2" width="58.5" height="227.7" fill="#DAEEFD"/>
<rect x="272.1" y="1809.3" width="57.8" height="247.6" fill="#FEE8E6"/>
<rect x="329.9" y="1765.5" width="59" height="291.4" fill="#DAEEFD"/>
<line x1="125" y1="1619.85" x2="125" y2="2058.35" stroke="#000" stroke-width="2.9" stroke-linecap="butt"/>
<line x1="110.4" y1="2056.9" x2="388.9" y2="2056.9" stroke="#000" stroke-width="2.9" stroke-linecap="butt"/>
<line x1="110.4" y1="1621.3" x2="125" y2="1621.3" stroke="#000" stroke-width="2.9" stroke-linecap="butt"/>
<line x1="110.4" y1="1730.2" x2="125" y2="1730.2" stroke="#000" stroke-width="2.9" stroke-linecap="butt"/>
<line x1="110.4" y1="1839.1" x2="125" y2="1839.1" stroke="#000" stroke-width="2.9" stroke-linecap="butt"/>
<line x1="110.4" y1="1948" x2="125" y2="1948" stroke="#000" stroke-width="2.9" stroke-linecap="butt"/>
<line x1="110.4" y1="2056.9" x2="125" y2="2056.9" stroke="#000" stroke-width="2.9" stroke-linecap="butt"/>
<line x1="183.7" y1="2056.9" x2="183.7" y2="2074.4" stroke="#000" stroke-width="2.9" stroke-linecap="butt"/>
<line x1="329.3" y1="2056.9" x2="329.3" y2="2074.4" stroke="#000" stroke-width="2.9" stroke-linecap="butt"/>
<text transform="translate(56,1633.6) scale(1,0.960)" style="font-size:30.5px">100</text>
<text transform="translate(72.97,1740.6) scale(1,0.960)" style="font-size:30.5px">10</text>
<text transform="translate(91.84,1846.5) scale(1,0.960)" style="font-size:30.5px">1</text>
<text transform="translate(66.4,1954.2) scale(1,0.960)" style="font-size:30.5px">0.1</text>
<text transform="translate(49.44,2059.6) scale(1,0.960)" style="font-size:30.5px">0.01</text>
<text transform="translate(148.91,2097) scale(1,0.9370)" style="font-size:35.06px" xml:space="preserve">Total</text>
<text transform="translate(288.49,2099.3) scale(1,0.9261)" style="font-size:35.45px" xml:space="preserve">Macs</text>
<line x1="154.9" y1="1858.3" x2="154.9" y2="1919" stroke="#FF2600" stroke-width="2.8" stroke-linecap="butt"/>
<line x1="139.1" y1="1858.3" x2="170.7" y2="1858.3" stroke="#FF2600" stroke-width="2.7" stroke-linecap="butt"/>
<line x1="139.1" y1="1919" x2="170.7" y2="1919" stroke="#FF2600" stroke-width="2.7" stroke-linecap="butt"/>
<polygon points="148.65,1816.8 161.15,1816.8 154.9,1830.8" fill="#FF2600"/>
<polygon points="148.15,1872.6 154.9,1865.04 161.65,1872.6 154.9,1880.16" fill="#FF2600"/>
<ellipse cx="154.9" cy="1922" rx="6.25" ry="7" fill="#FF2600"/>
<rect x="148.65" y="1950.6" width="12.5" height="14" fill="#FF2600"/>
<polygon points="148.65,2006.5 161.15,2006.5 154.9,1992.5" fill="#FF2600"/>
<line x1="213.2" y1="1817.2" x2="213.2" y2="1846.2" stroke="#0433FF" stroke-width="2.8" stroke-linecap="butt"/>
<line x1="197.7" y1="1817.2" x2="228.7" y2="1817.2" stroke="#0433FF" stroke-width="2.7" stroke-linecap="butt"/>
<line x1="197.7" y1="1846.2" x2="228.7" y2="1846.2" stroke="#0433FF" stroke-width="2.7" stroke-linecap="butt"/>
<polygon points="206.95,1789.6 219.45,1789.6 213.2,1803.6" fill="#0433FF"/>
<polygon points="206.95,1826.3 219.45,1826.3 213.2,1812.3" fill="#0433FF"/>
<ellipse cx="213.2" cy="1836.3" rx="6.25" ry="7" fill="#0433FF"/>
<polygon points="206.45,1857.8 213.2,1850.24 219.95,1857.8 213.2,1865.36" fill="#0433FF"/>
<rect x="206.95" y="1873.5" width="12.5" height="14" fill="#0433FF"/>
<line x1="301.1" y1="1782.3" x2="301.1" y2="1874.4" stroke="#FF2600" stroke-width="2.8" stroke-linecap="butt"/>
<line x1="285.3" y1="1782.3" x2="316.9" y2="1782.3" stroke="#FF2600" stroke-width="2.7" stroke-linecap="butt"/>
<line x1="285.3" y1="1874.4" x2="316.9" y2="1874.4" stroke="#FF2600" stroke-width="2.7" stroke-linecap="butt"/>
<polygon points="294.85,1736.3 307.35,1736.3 301.1,1750.3" fill="#FF2600"/>
<polygon points="294.35,1838.5 301.1,1830.94 307.85,1838.5 301.1,1846.06" fill="#FF2600"/>
<ellipse cx="301.1" cy="1857.1" rx="6.25" ry="7" fill="#FF2600"/>
<rect x="294.85" y="1909.8" width="12.5" height="14" fill="#FF2600"/>
<polygon points="294.85,1993.4 307.35,1993.4 301.1,1979.4" fill="#FF2600"/>
<line x1="359.4" y1="1747.3" x2="359.4" y2="1793.2" stroke="#0433FF" stroke-width="2.8" stroke-linecap="butt"/>
<line x1="343.8" y1="1747.3" x2="375" y2="1747.3" stroke="#0433FF" stroke-width="2.7" stroke-linecap="butt"/>
<line x1="343.8" y1="1793.2" x2="375" y2="1793.2" stroke="#0433FF" stroke-width="2.7" stroke-linecap="butt"/>
<polygon points="353.15,1709 365.65,1709 359.4,1723" fill="#0433FF"/>
<polygon points="341.85,1788.8 354.35,1788.8 348.1,1774.8" fill="#0433FF"/>
<polygon points="364.45,1779.1 371.2,1771.54 377.95,1779.1 371.2,1786.66" fill="#0433FF"/>
<ellipse cx="359.4" cy="1795" rx="6.25" ry="7" fill="#0433FF"/>
<rect x="353.15" y="1827" width="12.5" height="14" fill="#0433FF"/>
<line x1="146.3" y1="1761.4" x2="208.6" y2="1761.4" stroke="#000" stroke-width="2.8" stroke-linecap="butt"/>
<text transform="translate(169.54,1767.4) scale(1,0.9884)" style="font-size:28.82px;stroke:#000;stroke-width:0.5px">*</text>
<line x1="295.2" y1="1689.3" x2="357.8" y2="1689.3" stroke="#000" stroke-width="2.8" stroke-linecap="butt"/>
<text transform="translate(318.1,1694.61) scale(1,0.8848)" style="font-size:30.9px;stroke:#000;stroke-width:0.5px">***</text>
<rect x="600.9" y="1882" width="55.6" height="172.4" fill="#FEE8E6"/>
<rect x="656.5" y="1871.4" width="59.4" height="183" fill="#DAEEFD"/>
<rect x="745.4" y="1819.2" width="57.8" height="235.2" fill="#FEE8E6"/>
<rect x="803.2" y="1769.4" width="58.5" height="285" fill="#DAEEFD"/>
<line x1="598.4" y1="1615.75" x2="598.4" y2="2055.85" stroke="#000" stroke-width="2.9" stroke-linecap="butt"/>
<line x1="583.4" y1="2054.4" x2="862.4" y2="2054.4" stroke="#000" stroke-width="2.9" stroke-linecap="butt"/>
<line x1="583.4" y1="1617.2" x2="598.4" y2="1617.2" stroke="#000" stroke-width="2.9" stroke-linecap="butt"/>
<line x1="583.4" y1="1762.93" x2="598.4" y2="1762.93" stroke="#000" stroke-width="2.9" stroke-linecap="butt"/>
<line x1="583.4" y1="1908.67" x2="598.4" y2="1908.67" stroke="#000" stroke-width="2.9" stroke-linecap="butt"/>
<line x1="583.4" y1="2054.4" x2="598.4" y2="2054.4" stroke="#000" stroke-width="2.9" stroke-linecap="butt"/>
<line x1="656.5" y1="2054.4" x2="656.5" y2="2071.4" stroke="#000" stroke-width="2.9" stroke-linecap="butt"/>
<line x1="803.2" y1="2054.4" x2="803.2" y2="2071.4" stroke="#000" stroke-width="2.9" stroke-linecap="butt"/>
<text transform="translate(528.5,1629.2) scale(1,0.960)" style="font-size:30.5px">100</text>
<text transform="translate(545.47,1773.9) scale(1,0.960)" style="font-size:30.5px">10</text>
<text transform="translate(563.44,1918.5) scale(1,0.960)" style="font-size:30.5px">1</text>
<text transform="translate(539.2,2064) scale(1,0.960)" style="font-size:30.5px">0.1</text>
<text transform="translate(621.61,2096.3) scale(1,0.9357)" style="font-size:35.1px" xml:space="preserve">Total</text>
<text transform="translate(762.04,2098.6) scale(1,0.9401)" style="font-size:34.92px" xml:space="preserve">Macs</text>
<line x1="627.7" y1="1851.4" x2="627.7" y2="1944.4" stroke="#FF2600" stroke-width="2.8" stroke-linecap="butt"/>
<line x1="612.1" y1="1851.4" x2="643.3" y2="1851.4" stroke="#FF2600" stroke-width="2.7" stroke-linecap="butt"/>
<line x1="612.1" y1="1944.4" x2="643.3" y2="1944.4" stroke="#FF2600" stroke-width="2.7" stroke-linecap="butt"/>
<polygon points="621.45,1796.8 633.95,1796.8 627.7,1810.8" fill="#FF2600"/>
<polygon points="620.95,1882 627.7,1874.44 634.45,1882 627.7,1889.56" fill="#FF2600"/>
<ellipse cx="627.7" cy="1960.3" rx="6.25" ry="7" fill="#FF2600"/>
<rect x="609.85" y="2000.9" width="12.5" height="14" fill="#FF2600"/>
<polygon points="632.55,2012.6 645.05,2012.6 638.8,1998.6" fill="#FF2600"/>
<line x1="686.4" y1="1855.3" x2="686.4" y2="1892.7" stroke="#0433FF" stroke-width="2.8" stroke-linecap="butt"/>
<line x1="670.8" y1="1855.3" x2="702" y2="1855.3" stroke="#0433FF" stroke-width="2.7" stroke-linecap="butt"/>
<line x1="670.8" y1="1892.7" x2="702" y2="1892.7" stroke="#0433FF" stroke-width="2.7" stroke-linecap="butt"/>
<polygon points="680.15,1820.6 692.65,1820.6 686.4,1834.6" fill="#0433FF"/>
<polygon points="680.15,1860 692.65,1860 686.4,1846" fill="#0433FF"/>
<ellipse cx="675.1" cy="1899" rx="6.25" ry="7" fill="#0433FF"/>
<polygon points="691.65,1899 698.4,1891.44 705.15,1899 698.4,1906.56" fill="#0433FF"/>
<rect x="680.15" y="1920.8" width="12.5" height="14" fill="#0433FF"/>
<line x1="774.4" y1="1794.5" x2="774.4" y2="1859.4" stroke="#FF2600" stroke-width="2.8" stroke-linecap="butt"/>
<line x1="758.8" y1="1794.5" x2="790" y2="1794.5" stroke="#FF2600" stroke-width="2.7" stroke-linecap="butt"/>
<line x1="758.8" y1="1859.4" x2="790" y2="1859.4" stroke="#FF2600" stroke-width="2.7" stroke-linecap="butt"/>
<polygon points="768.15,1747 780.65,1747 774.4,1761" fill="#FF2600"/>
<polygon points="767.65,1808.3 774.4,1800.74 781.15,1808.3 774.4,1815.86" fill="#FF2600"/>
<ellipse cx="774.4" cy="1852.6" rx="6.25" ry="7" fill="#FF2600"/>
<rect x="768.15" y="1889.1" width="12.5" height="14" fill="#FF2600"/>
<polygon points="768.15,1936.7 780.65,1936.7 774.4,1922.7" fill="#FF2600"/>
<line x1="832.9" y1="1740.4" x2="832.9" y2="1820.8" stroke="#0433FF" stroke-width="2.8" stroke-linecap="butt"/>
<line x1="817" y1="1740.4" x2="848.8" y2="1740.4" stroke="#0433FF" stroke-width="2.7" stroke-linecap="butt"/>
<line x1="817" y1="1820.8" x2="848.8" y2="1820.8" stroke="#0433FF" stroke-width="2.7" stroke-linecap="butt"/>
<polygon points="826.65,1685.7 839.15,1685.7 832.9,1699.7" fill="#0433FF"/>
<polygon points="837.95,1808.5 850.45,1808.5 844.2,1794.5" fill="#0433FF"/>
<ellipse cx="821.5" cy="1812.2" rx="6.25" ry="7" fill="#0433FF"/>
<rect x="815.25" y="1833.8" width="12.5" height="14" fill="#0433FF"/>
<polygon points="837.45,1836.7 844.2,1829.14 850.95,1836.7 844.2,1844.26" fill="#0433FF"/>
<line x1="626.5" y1="1767.1" x2="688.7" y2="1767.1" stroke="#000" stroke-width="2.8" stroke-linecap="butt"/>
<text transform="translate(636.7,1770.68) scale(1,0.7373)" style="font-size:30.9px;stroke:#000;stroke-width:0.5px">***</text>
<line x1="768.3" y1="1662.1" x2="830.6" y2="1662.1" stroke="#000" stroke-width="2.8" stroke-linecap="butt"/>
<text transform="translate(781.8,1667.43) scale(1,0.8363)" style="font-size:30.99px;stroke:#000;stroke-width:0.5px">***</text>
<rect x="1028.2" y="1903.1" width="58.9" height="153.1" fill="#FEE8E6"/>
<rect x="1087.1" y="1841.2" width="61.3" height="215" fill="#DAEEFD"/>
<rect x="1179.4" y="1864.4" width="61.3" height="191.8" fill="#FEE8E6"/>
<rect x="1240.7" y="1874.1" width="62.3" height="182.1" fill="#DAEEFD"/>
<line x1="1026.8" y1="1616.45" x2="1026.8" y2="2057.65" stroke="#000" stroke-width="2.9" stroke-linecap="butt"/>
<line x1="1011.2" y1="2056.2" x2="1303" y2="2056.2" stroke="#000" stroke-width="2.9" stroke-linecap="butt"/>
<line x1="1011.2" y1="1617.9" x2="1026.8" y2="1617.9" stroke="#000" stroke-width="2.9" stroke-linecap="butt"/>
<line x1="1011.2" y1="1764" x2="1026.8" y2="1764" stroke="#000" stroke-width="2.9" stroke-linecap="butt"/>
<line x1="1011.2" y1="1910.1" x2="1026.8" y2="1910.1" stroke="#000" stroke-width="2.9" stroke-linecap="butt"/>
<line x1="1011.2" y1="2056.2" x2="1026.8" y2="2056.2" stroke="#000" stroke-width="2.9" stroke-linecap="butt"/>
<line x1="1087.1" y1="2056.2" x2="1087.1" y2="2072.5" stroke="#000" stroke-width="2.9" stroke-linecap="butt"/>
<line x1="1240.2" y1="2056.2" x2="1240.2" y2="2072.5" stroke="#000" stroke-width="2.9" stroke-linecap="butt"/>
<text transform="translate(959.3,1628.8) scale(1,0.960)" style="font-size:30.5px">100</text>
<text transform="translate(976.27,1772.9) scale(1,0.960)" style="font-size:30.5px">10</text>
<text transform="translate(993.74,1917.9) scale(1,0.960)" style="font-size:30.5px">1</text>
<text transform="translate(968.3,2062.9) scale(1,0.960)" style="font-size:30.5px">0.1</text>
<text transform="translate(1053.52,2100.9) scale(1,0.9458)" style="font-size:34.73px" xml:space="preserve">Total</text>
<text transform="translate(1193.53,2102) scale(1,0.9389)" style="font-size:34.96px" xml:space="preserve">Macs</text>
<line x1="1056.5" y1="1882.5" x2="1056.5" y2="1934.6" stroke="#FF2600" stroke-width="2.8" stroke-linecap="butt"/>
<line x1="1040.2" y1="1882.5" x2="1072.8" y2="1882.5" stroke="#FF2600" stroke-width="2.7" stroke-linecap="butt"/>
<line x1="1040.2" y1="1934.6" x2="1072.8" y2="1934.6" stroke="#FF2600" stroke-width="2.7" stroke-linecap="butt"/>
<polygon points="1050.25,1846 1062.75,1846 1056.5,1860" fill="#FF2600"/>
<polygon points="1049.75,1868.4 1056.5,1860.84 1063.25,1868.4 1056.5,1875.96" fill="#FF2600"/>
<polygon points="1038.25,1964 1050.75,1964 1044.5,1950" fill="#FF2600"/>
<rect x="1062.75" y="1943.7" width="12.5" height="14" fill="#FF2600"/>
<ellipse cx="1056.5" cy="1991.8" rx="6.25" ry="7" fill="#FF2600"/>
<line x1="1118.2" y1="1805.4" x2="1118.2" y2="1929.2" stroke="#0433FF" stroke-width="2.8" stroke-linecap="butt"/>
<line x1="1101.6" y1="1805.4" x2="1134.8" y2="1805.4" stroke="#0433FF" stroke-width="2.7" stroke-linecap="butt"/>
<line x1="1101.6" y1="1929.2" x2="1134.8" y2="1929.2" stroke="#0433FF" stroke-width="2.7" stroke-linecap="butt"/>
<polygon points="1111.95,1745.8 1124.45,1745.8 1118.2,1759.8" fill="#0433FF"/>
<polygon points="1111.45,1900.2 1118.2,1892.64 1124.95,1900.2 1118.2,1907.76" fill="#0433FF"/>
<rect x="1123.75" y="1920.8" width="12.5" height="14" fill="#0433FF"/>
<polygon points="1100.15,1948 1112.65,1948 1106.4,1934" fill="#0433FF"/>
<ellipse cx="1118.2" cy="1969.3" rx="6.25" ry="7" fill="#0433FF"/>
<line x1="1210.5" y1="1842.4" x2="1210.5" y2="1896.8" stroke="#FF2600" stroke-width="2.8" stroke-linecap="butt"/>
<line x1="1194" y1="1842.4" x2="1227" y2="1842.4" stroke="#FF2600" stroke-width="2.7" stroke-linecap="butt"/>
<line x1="1194" y1="1896.8" x2="1227" y2="1896.8" stroke="#FF2600" stroke-width="2.7" stroke-linecap="butt"/>
<polygon points="1203.75,1806.8 1210.5,1799.24 1217.25,1806.8 1210.5,1814.36" fill="#FF2600"/>
<polygon points="1204.25,1839.9 1216.75,1839.9 1210.5,1853.9" fill="#FF2600"/>
<polygon points="1192.45,1923 1204.95,1923 1198.7,1909" fill="#FF2600"/>
<rect x="1215.85" y="1905.2" width="12.5" height="14" fill="#FF2600"/>
<ellipse cx="1210.5" cy="1931.9" rx="6.25" ry="7" fill="#FF2600"/>
<line x1="1271.3" y1="1853.7" x2="1271.3" y2="1904.3" stroke="#0433FF" stroke-width="2.8" stroke-linecap="butt"/>
<line x1="1255.1" y1="1853.7" x2="1287.5" y2="1853.7" stroke="#0433FF" stroke-width="2.7" stroke-linecap="butt"/>
<line x1="1255.1" y1="1904.3" x2="1287.5" y2="1904.3" stroke="#0433FF" stroke-width="2.7" stroke-linecap="butt"/>
<polygon points="1265.05,1809.3 1277.55,1809.3 1271.3,1823.3" fill="#0433FF"/>
<rect x="1265.05" y="1862.1" width="12.5" height="14" fill="#0433FF"/>
<polygon points="1252.75,1910.4 1259.5,1902.84 1266.25,1910.4 1259.5,1917.96" fill="#0433FF"/>
<polygon points="1277.45,1918.1 1289.95,1918.1 1283.7,1904.1" fill="#0433FF"/>
<ellipse cx="1271.3" cy="1945.1" rx="6.25" ry="7" fill="#0433FF"/>
<line x1="1056.3" y1="1718.1" x2="1118.7" y2="1718.1" stroke="#000" stroke-width="2.8" stroke-linecap="butt"/>
<text transform="translate(1083.27,1720.83) scale(1,0.9757)" style="font-size:26.86px;stroke:#000;stroke-width:0.5px">*</text>
<line x1="1204.4" y1="1790.7" x2="1266.7" y2="1790.7" stroke="#000" stroke-width="2.8" stroke-linecap="butt"/>
<text transform="translate(1218.22,1786.8) scale(1,0.9600)" style="font-size:28.64px;font-style:italic" xml:space="preserve">NS</text>
<rect x="1504.5" y="1833.3" width="57.8" height="223.8" fill="#FEE8E6"/>
<rect x="1562.3" y="1726.3" width="59.7" height="330.8" fill="#DAEEFD"/>
<rect x="1651.5" y="1786.5" width="58.9" height="270.6" fill="#FEE8E6"/>
<rect x="1710.4" y="1683.7" width="59.4" height="373.4" fill="#DAEEFD"/>
<line x1="1502.5" y1="1619.45" x2="1502.5" y2="2058.55" stroke="#000" stroke-width="2.9" stroke-linecap="butt"/>
<line x1="1486.4" y1="2057.1" x2="1769.8" y2="2057.1" stroke="#000" stroke-width="2.9" stroke-linecap="butt"/>
<line x1="1486.4" y1="1620.9" x2="1502.5" y2="1620.9" stroke="#000" stroke-width="2.9" stroke-linecap="butt"/>
<line x1="1486.4" y1="1766.3" x2="1502.5" y2="1766.3" stroke="#000" stroke-width="2.9" stroke-linecap="butt"/>
<line x1="1486.4" y1="1911.7" x2="1502.5" y2="1911.7" stroke="#000" stroke-width="2.9" stroke-linecap="butt"/>
<line x1="1486.4" y1="2057.1" x2="1502.5" y2="2057.1" stroke="#000" stroke-width="2.9" stroke-linecap="butt"/>
<line x1="1561.2" y1="2057.1" x2="1561.2" y2="2074.8" stroke="#000" stroke-width="2.9" stroke-linecap="butt"/>
<line x1="1709.3" y1="2057.1" x2="1709.3" y2="2074.8" stroke="#000" stroke-width="2.9" stroke-linecap="butt"/>
<text transform="translate(1434,1625.9) scale(1,0.960)" style="font-size:30.5px">100</text>
<text transform="translate(1451.27,1778.8) scale(1,0.960)" style="font-size:30.5px">10</text>
<text transform="translate(1468.74,1922.9) scale(1,0.960)" style="font-size:30.5px">1</text>
<text transform="translate(1443.3,2060.8) scale(1,0.960)" style="font-size:30.5px">0.1</text>
<text transform="translate(1529.81,2095.2) scale(1,0.9370)" style="font-size:35.06px" xml:space="preserve">Total</text>
<text transform="translate(1670.64,2096.3) scale(1,0.9401)" style="font-size:34.92px" xml:space="preserve">Macs</text>
<line x1="1531.7" y1="1816.3" x2="1531.7" y2="1854.4" stroke="#FF2600" stroke-width="2.8" stroke-linecap="butt"/>
<line x1="1515.8" y1="1816.3" x2="1547.6" y2="1816.3" stroke="#FF2600" stroke-width="2.7" stroke-linecap="butt"/>
<line x1="1515.8" y1="1854.4" x2="1547.6" y2="1854.4" stroke="#FF2600" stroke-width="2.7" stroke-linecap="butt"/>
<ellipse cx="1519.9" cy="1802.7" rx="6.25" ry="7" fill="#FF2600"/>
<polygon points="1537.25,1794.5 1549.75,1794.5 1543.5,1808.5" fill="#FF2600"/>
<polygon points="1524.95,1823.1 1531.7,1815.54 1538.45,1823.1 1531.7,1830.66" fill="#FF2600"/>
<rect x="1525.45" y="1892.7" width="12.5" height="14" fill="#FF2600"/>
<polygon points="1525.45,1920.8 1537.95,1920.8 1531.7,1906.8" fill="#FF2600"/>
<line x1="1591.4" y1="1704.5" x2="1591.4" y2="1758" stroke="#0433FF" stroke-width="2.8" stroke-linecap="butt"/>
<line x1="1575.2" y1="1704.5" x2="1607.6" y2="1704.5" stroke="#0433FF" stroke-width="2.7" stroke-linecap="butt"/>
<line x1="1575.2" y1="1758" x2="1607.6" y2="1758" stroke="#0433FF" stroke-width="2.7" stroke-linecap="butt"/>
<polygon points="1585.15,1677.5 1597.65,1677.5 1591.4,1663.5" fill="#0433FF"/>
<ellipse cx="1591.4" cy="1707.5" rx="6.25" ry="7" fill="#0433FF"/>
<polygon points="1584.65,1750.6 1591.4,1743.04 1598.15,1750.6 1591.4,1758.16" fill="#0433FF"/>
<polygon points="1585.15,1781 1597.65,1781 1591.4,1795" fill="#0433FF"/>
<rect x="1585.15" y="1815" width="12.5" height="14" fill="#0433FF"/>
<line x1="1680.5" y1="1768.3" x2="1680.5" y2="1809.5" stroke="#FF2600" stroke-width="2.8" stroke-linecap="butt"/>
<line x1="1664.3" y1="1768.3" x2="1696.7" y2="1768.3" stroke="#FF2600" stroke-width="2.7" stroke-linecap="butt"/>
<line x1="1664.3" y1="1809.5" x2="1696.7" y2="1809.5" stroke="#FF2600" stroke-width="2.7" stroke-linecap="butt"/>
<polygon points="1674.25,1736.8 1686.75,1736.8 1680.5,1750.8" fill="#FF2600"/>
<ellipse cx="1680.5" cy="1760.8" rx="6.25" ry="7" fill="#FF2600"/>
<polygon points="1673.75,1787.6 1680.5,1780.04 1687.25,1787.6 1680.5,1795.16" fill="#FF2600"/>
<rect x="1674.25" y="1832" width="12.5" height="14" fill="#FF2600"/>
<polygon points="1674.25,1892.4 1686.75,1892.4 1680.5,1878.4" fill="#FF2600"/>
<line x1="1739.7" y1="1668.3" x2="1739.7" y2="1704.5" stroke="#0433FF" stroke-width="2.8" stroke-linecap="butt"/>
<line x1="1723.8" y1="1668.3" x2="1755.6" y2="1668.3" stroke="#0433FF" stroke-width="2.7" stroke-linecap="butt"/>
<line x1="1723.8" y1="1704.5" x2="1755.6" y2="1704.5" stroke="#0433FF" stroke-width="2.7" stroke-linecap="butt"/>
<polygon points="1709.65,1661.6 1722.15,1661.6 1715.9,1647.6" fill="#0433FF"/>
<polygon points="1757.25,1651.7 1769.75,1651.7 1763.5,1665.7" fill="#0433FF"/>
<ellipse cx="1739.7" cy="1666.7" rx="6.25" ry="7" fill="#0433FF"/>
<rect x="1733.45" y="1737.9" width="12.5" height="14" fill="#0433FF"/>
<polygon points="1732.95,1763.5 1739.7,1755.94 1746.45,1763.5 1739.7,1771.06" fill="#0433FF"/>
<line x1="1524.5" y1="1645.1" x2="1586.6" y2="1645.1" stroke="#000" stroke-width="2.8" stroke-linecap="butt"/>
<text transform="translate(1529.59,1648.08) scale(1,0.7079)" style="font-size:31.79px;stroke:#000;stroke-width:0.5px">***</text>
<line x1="1672.3" y1="1625.2" x2="1734.7" y2="1625.2" stroke="#000" stroke-width="2.8" stroke-linecap="butt"/>
<text transform="translate(1665.39,1617.9) scale(1,0.9703)" style="font-size:30.11px;font-style:italic" xml:space="preserve">0.112</text>
</svg></body></html>
